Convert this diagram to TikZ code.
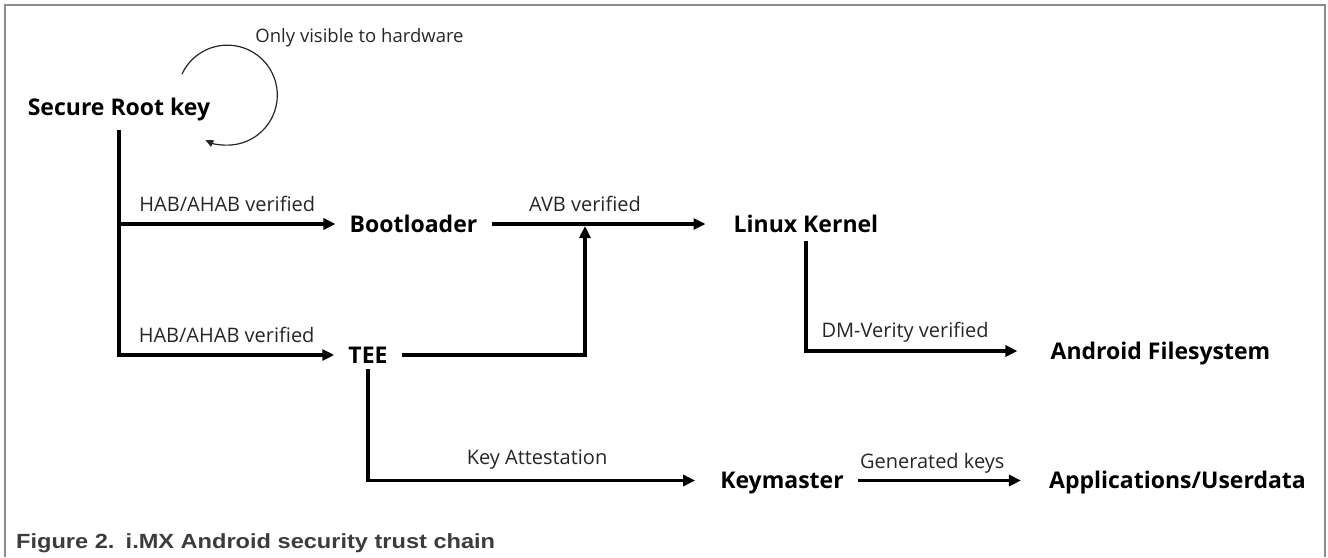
\documentclass[tikz,border=0pt]{standalone}
\usepackage{fontspec}
\setmainfont{Open Sans}
\newfontfamily\capfont{Liberation Sans}[FakeStretch=1.15]
\usetikzlibrary{arrows.meta, positioning, calc}
\definecolor{framegray}{HTML}{8C8C8C}
\definecolor{capgray}{HTML}{3C3C3C}

\begin{document}
\begin{tikzpicture}[
    x=1pt, y=-1pt,
    stage/.style={inner xsep=14pt, inner ysep=0pt, text height=16pt, text depth=0pt, font=\bfseries\fontsize{23}{27}\selectfont},
    note/.style={inner sep=0pt, text height=14pt, text depth=0pt, font=\fontsize{20}{24}\selectfont, text=black!85},
    arrow/.style={-{Triangle[length=12pt, width=11pt]}, line width=3.6pt},
    loopy/.style={-{Triangle[length=8pt, width=7pt]}, line width=1.2pt, draw=black!85}
]
    \useasboundingbox (0,0) rectangle (1328,557);
    % Frame, open at the bottom
    \draw[framegray, line width=1.2pt] (5,557) -- (5,5) -- (1325,5) -- (1325,557);

    % Chain stages
    \node[stage] (root) at (119,107) {Secure Root key};
    \node[stage] (boot) at (413.5,224) {Bootloader};
    \node[stage] (tee) at (368,355) {TEE};
    \node[stage] (linux) at (806,224) {Linux Kernel};
    \node[stage] (android) at (1160.5,351) {Android Filesystem};
    \node[stage] (keym) at (782,480.5) {Keymaster};
    \node[stage] (apps) at (1177.5,480.5) {Applications/Userdata};

    % Hardware-only loop
    \node[note, font=\fontsize{18.5}{22}\selectfont] (hwnote) at (359.5,35) {Only visible to hardware};
    \coordinate (loopstart) at (182,74);
    \draw[loopy] (loopstart) arc[start angle=-155, end angle=116, radius=50];

    % Arrows
    \draw[arrow] ([yshift=-15pt]root.south) |- node[note, pos=0.75, above=11pt] (hablbl1) {HAB/AHAB verified} (boot.west);
    \draw[arrow] ([yshift=-15pt]root.south) |- node[note, pos=0.75, above=11pt] (hablbl2) {HAB/AHAB verified} (tee.west);
    \draw[arrow, shorten >=14pt] (boot.east) -- node[note, pos=0.41, above=11pt] (avblbl) {AVB verified} (linux.west);
    \path (boot.east) -- (linux.west) coordinate[pos=0.41] (avbjoin);
    \draw[arrow] (tee.east) -| ([yshift=-2pt]avbjoin);
    \draw[arrow, shorten >=19pt] ([yshift=-9pt]linux.south) |- node[note, pos=0.715, above=12pt] (dmlbl) {DM-Verity verified} (android.west);
    \draw[arrow, shorten >=11pt] ([yshift=-6pt]tee.south) |- node[note, pos=0.75, above=14pt] (attlbl) {Key Attestation} (keym.west);
    \draw[arrow, shorten >=14pt] (keym.east) -- node[note, pos=0.42, above=10pt] (genlbl) {Generated keys} (apps.west);

    % Caption
    \node[anchor=base west, inner sep=0pt, font=\capfont\bfseries\fontsize{20.5}{24}\selectfont, text=capgray] (caption) at (16,548) {Figure 2.\hspace{0.55em}i.MX Android security trust chain};
\end{tikzpicture}
\end{document}
